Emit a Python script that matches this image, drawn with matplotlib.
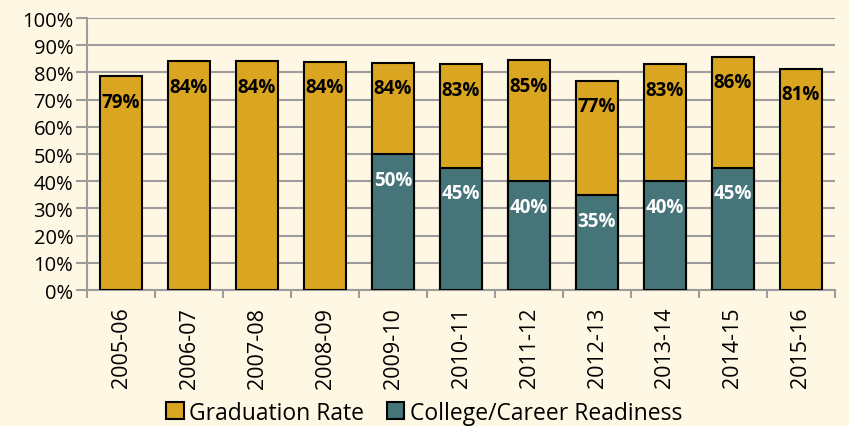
import matplotlib.pyplot as plt
import numpy as np

# Dữ liệu
years = ["2005-06", "2006-07", "2007-08", "2008-09", "2009-10", "2010-11",
         "2011-12", "2012-13", "2013-14", "2014-15", "2015-16"]
grad_rate = [78.7, 84.1, 84.3, 84.0, 83.6, 83.2, 84.6, 77.0, 83.0, 85.8, 81.4]
ccr_years = ["2009-10", "2010-11", "2011-12", "2012-13", "2013-14", "2014-15"]
ccr_rate = [50, 45, 40, 35, 40, 45]

gold = "#DAA520"
teal = "#457479"
bg = "#FEF7E4"
grid_c = "#9C9C9C"

plt.rcParams['font.family'] = ['Open Sans', 'DejaVu Sans']

fig = plt.figure(figsize=(8.49, 4.27), dpi=100, facecolor=bg)
ax = fig.add_axes([0.1025, 0.3185, 0.881, 0.637])
ax.set_facecolor(bg)

x = np.arange(len(years))
ax.bar(x, grad_rate, width=0.62, color=gold, edgecolor="black", linewidth=1.5,
       label="Graduation Rate", zorder=3)
cx = [years.index(y) for y in ccr_years]
ax.bar(cx, ccr_rate, width=0.62, color=teal, edgecolor="black", linewidth=1.5,
       label="College/Career Readiness", zorder=4)

for xi, v in zip(x, grad_rate):
    ax.text(xi, v - 9.5, f"{round(v)}%", ha="center", va="center",
            fontsize=13.5, fontweight="bold", color="black", zorder=5)
for xi, v in zip(cx, ccr_rate):
    ax.text(xi, v - 9.5, f"{v}%", ha="center", va="center",
            fontsize=13.5, fontweight="bold", color="white", zorder=5)

ax.set_ylim(0, 100)
ax.set_xlim(-0.5, len(years) - 0.5)
ax.set_yticks(range(0, 101, 10))
ax.set_yticklabels([f"{v}%" for v in range(0, 101, 10)], fontsize=14.5)
ax.yaxis.grid(True, color=grid_c, linewidth=1.5, zorder=0)
ax.tick_params(axis="y", length=8, width=1.5, color=grid_c, pad=2)

ax.set_xticks(x)
ax.set_xticklabels(years, rotation=90, fontsize=15.5)
ax.set_xticks(np.arange(-0.5, len(years), 1), minor=True)
ax.tick_params(axis="x", which="major", length=0, pad=12)
ax.tick_params(axis="x", which="minor", length=6, width=1.5, color=grid_c)

for s in ["top", "right"]:
    ax.spines[s].set_visible(False)
for s in ["left", "bottom"]:
    ax.spines[s].set_color(grid_c)
    ax.spines[s].set_linewidth(1.5)

leg = fig.legend(loc="lower center", bbox_to_anchor=(0.5, -0.045), ncol=2,
                 frameon=False, fontsize=16.5, handlelength=0.75, handleheight=0.75,
                 handletextpad=0.25, columnspacing=1.0)

fig.savefig("out.png", dpi=100, facecolor=bg)
